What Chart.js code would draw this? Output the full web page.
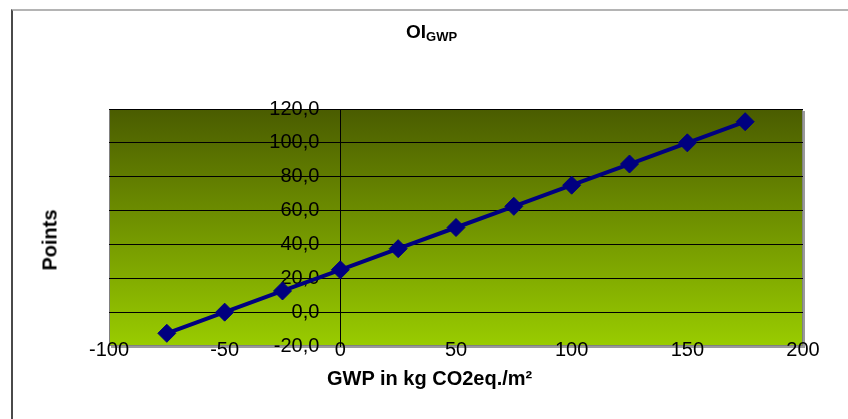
<!DOCTYPE html>
<html>
<head>
<meta charset="utf-8">
<script src="https://cdn.jsdelivr.net/npm/chart.js@4"></script>
<style>
  body { margin: 0; background: #fff; font-family: "Liberation Sans", Arial, sans-serif; }
  #wrap { position: relative; width: 848px; height: 419px; overflow: hidden; }
  #frame { position: absolute; left: 11px; top: 9px; width: 900px; height: 500px;
           border-top: 2px solid #b4b4b4; border-left: 2px solid #4a4a4a; }
  canvas { position: absolute; left: 0; top: 0; }
  .lbl { position: absolute; font-weight: bold; color: #000; white-space: nowrap; }
  #title { left: 406px; top: 21px; font-size: 19px; }
  #title sub { font-size: 13px; vertical-align: -3px; }
  #xTitle { left: 327px; top: 367px; font-size: 20px; }
  #yTitle { left: 50px; top: 240px; font-size: 20px; transform: translate(-50%, -50%) rotate(-90deg); }
</style>
</head>
<body>
<div id="wrap">
  <div id="frame"></div>
  <canvas id="chart" width="848" height="419"></canvas>
  <div class="lbl" id="title">OI<sub>GWP</sub></div>
  <div class="lbl" id="xTitle">GWP in kg CO2eq./m²</div>
  <div class="lbl" id="yTitle">Points</div>
</div>
<script>
// GWP values and resulting points
const gwpValues = [-75, -50, -25, 0, 25, 50, 75, 100, 125, 150, 175];
const pointValues = [-12.5, 0, 12.5, 25, 37.5, 50, 62.5, 75, 87.5, 100, 112.5];
const xTicks = [-100, -50, 0, 50, 100, 150, 200];
const yTicks = [-20, 0, 20, 40, 60, 80, 100, 120];

// gradient background + grey frame for the plot area
const plotBackground = {
  id: 'plotBackground',
  beforeDraw(chart) {
    const { ctx, chartArea: a } = chart;
    const grad = ctx.createLinearGradient(0, a.top, 0, a.bottom);
    grad.addColorStop(0, '#4a5c00');
    grad.addColorStop(1, '#99cc00');
    ctx.save();
    ctx.fillStyle = grad;
    ctx.fillRect(a.left, a.top, a.right - a.left, a.bottom - a.top);
    ctx.fillStyle = '#9a9a9a';
    ctx.fillRect(a.right, a.top + 2, 2, a.bottom - a.top);
    ctx.fillRect(a.left + 2, a.bottom, a.right - a.left, 2);
    ctx.strokeStyle = '#808080';
    ctx.lineWidth = 1;
    ctx.strokeRect(a.left + 0.5, a.top + 0.5, a.right - a.left - 1, a.bottom - a.top - 1);
    ctx.restore();
  }
};

const tickFont = { family: '"Liberation Sans", Arial, sans-serif', size: 20 };
const labelGapPx = 21; // gap between y labels and the y axis line

new Chart(document.getElementById('chart'), {
  type: 'line',
  data: {
    datasets: [{
      data: gwpValues.map((x, i) => ({ x: x, y: pointValues[i] })),
      borderColor: '#000080',
      backgroundColor: '#000080',
      borderWidth: 4,
      pointStyle: 'rectRot',
      pointRadius: 9,
      pointBorderWidth: 1,
      pointBackgroundColor: '#000080',
      pointBorderColor: '#000080',
      tension: 0
    }]
  },
  options: {
    responsive: false,
    animation: false,
    layout: { padding: { left: 109, right: 45, top: 109, bottom: 73 } },
    plugins: { legend: { display: false }, tooltip: { enabled: false } },
    scales: {
      // x labels sit on the bottom edge of the plot (overlapping it, like the original)
      x: {
        type: 'linear',
        position: { y: -20 },
        min: -100,
        max: 200,
        afterBuildTicks: s => { s.ticks = xTicks.map(v => ({ value: v })); },
        grid: { display: false },
        border: { display: false },
        ticks: { color: '#000', font: tickFont, padding: -16, maxRotation: 0 }
      },
      // value axis: gridlines and the vertical line at x = 0
      y: {
        type: 'linear',
        position: { x: 0 },
        min: -20,
        max: 120,
        afterBuildTicks: s => { s.ticks = yTicks.map(v => ({ value: v })); },
        grid: {
          drawTicks: false,
          color: c => (c.tick && c.tick.value === -20) ? 'rgba(0,0,0,0)' : '#000',
          lineWidth: 1
        },
        border: { display: true, color: '#000', width: 1 },
        ticks: { display: false }
      },
      // same scale, only carries the tick labels just left of the axis line
      yLabels: {
        type: 'linear',
        axis: 'y',
        position: { x: -labelGapPx * 300 / 694 },
        min: -20,
        max: 120,
        afterBuildTicks: s => { s.ticks = yTicks.map(v => ({ value: v })); },
        grid: { display: false, drawTicks: false },
        border: { display: false },
        ticks: {
          color: '#000',
          font: tickFont,
          padding: 0,
          callback: v => v.toFixed(1).replace('.', ',')
        }
      }
    }
  },
  plugins: [plotBackground]
});
</script>
</body>
</html>
